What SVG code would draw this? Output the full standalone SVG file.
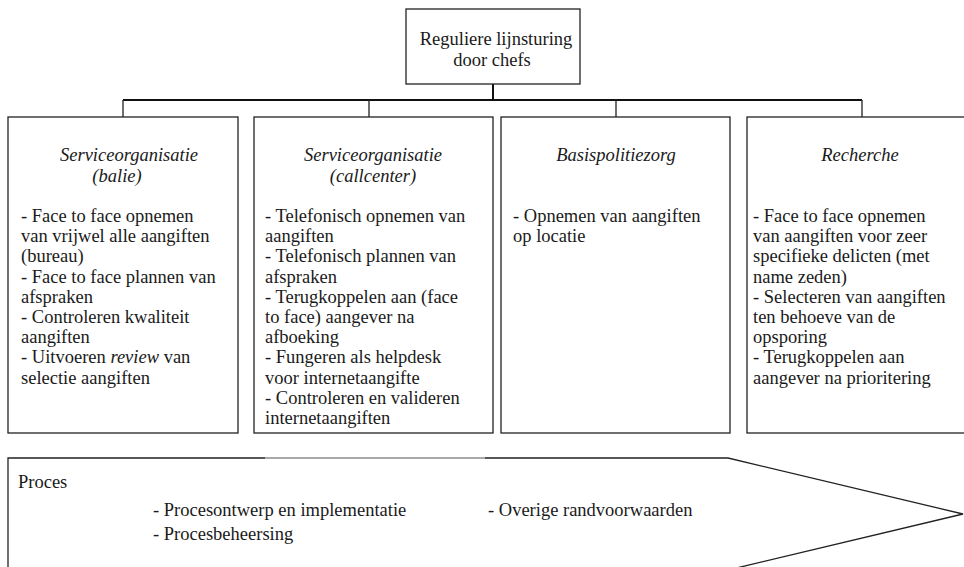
<svg xmlns="http://www.w3.org/2000/svg" width="964" height="567" viewBox="0 0 964 567">
  <style>
    .box { fill: #ffffff; stroke: #222222; stroke-width: 1.3; }
    .conn { fill: none; stroke: #222222; stroke-width: 1.3; }
    .trunk { fill: none; stroke: #111111; stroke-width: 2; }
    text { font-family: "Liberation Serif", "Times New Roman", serif; font-size: 18.5px; fill: #1a1a1a; }
    .hd { font-style: italic; text-anchor: middle; }
    .mid { text-anchor: middle; }
    .it { font-style: italic; }
  </style>
  <rect width="964" height="567" fill="#ffffff"/>

  <!-- connectors -->
  <g id="connectors">
    <path class="trunk" d="M493,84 V100 M123,100 H862"/>
    <path class="conn" d="M123,100 V117 M369,100 V117 M616,100 V117 M862,100 V117"/>
  </g>

  <!-- top node -->
  <g id="lijnsturing">
    <rect class="box" x="406" y="9" width="174" height="75"/>
    <text class="mid" x="496" y="45">Reguliere lijnsturing</text>
    <text class="mid" x="492" y="66">door chefs</text>
  </g>

  <g id="balie">
    <rect class="box" x="8" y="117" width="230" height="316"/>
    <text class="hd" x="129" y="161">Serviceorganisatie</text>
    <text class="hd" x="117" y="182">(balie)</text>
    <text x="21" y="222">
      <tspan x="21" y="222">- Face to face opnemen</tspan>
      <tspan x="21" y="242.2">van vrijwel alle aangiften</tspan>
      <tspan x="21" y="262.4">(bureau)</tspan>
      <tspan x="21" y="282.6">- Face to face plannen van</tspan>
      <tspan x="21" y="302.8">afspraken</tspan>
      <tspan x="21" y="323">- Controleren kwaliteit</tspan>
      <tspan x="21" y="343.2">aangiften</tspan>
      <tspan x="21" y="363.4">- Uitvoeren <tspan class="it">review</tspan> van</tspan>
      <tspan x="21" y="383.6">selectie aangiften</tspan>
    </text>
  </g>

  <g id="callcenter">
    <rect class="box" x="254" y="117" width="239" height="316"/>
    <text class="hd" x="373" y="161">Serviceorganisatie</text>
    <text class="hd" x="373" y="182">(callcenter)</text>
    <text x="265" y="222">
      <tspan x="265" y="222">- Telefonisch opnemen van</tspan>
      <tspan x="265" y="242.2">aangiften</tspan>
      <tspan x="265" y="262.4">- Telefonisch plannen van</tspan>
      <tspan x="265" y="282.6">afspraken</tspan>
      <tspan x="265" y="302.8">- Terugkoppelen aan (face</tspan>
      <tspan x="265" y="323">to face) aangever na</tspan>
      <tspan x="265" y="343.2">afboeking</tspan>
      <tspan x="265" y="363.4">- Fungeren als helpdesk</tspan>
      <tspan x="265" y="383.6">voor internetaangifte</tspan>
      <tspan x="265" y="403.8">- Controleren en valideren</tspan>
      <tspan x="265" y="424">internetaangiften</tspan>
    </text>
  </g>

  <g id="basispolitiezorg">
    <rect class="box" x="501" y="117" width="229" height="316"/>
    <text class="hd" x="616" y="161">Basispolitiezorg</text>
    <text x="513" y="222">
      <tspan x="513" y="222">- Opnemen van aangiften</tspan>
      <tspan x="513" y="242.2">op locatie</tspan>
    </text>
  </g>

  <g id="recherche">
    <rect class="box" x="747" y="117" width="222" height="316"/>
    <text class="hd" x="860" y="161">Recherche</text>
    <text x="753" y="222">
      <tspan x="753" y="222">- Face to face opnemen</tspan>
      <tspan x="753" y="242.2">van aangiften voor zeer</tspan>
      <tspan x="753" y="262.4">specifieke delicten (met</tspan>
      <tspan x="753" y="282.6">name zeden)</tspan>
      <tspan x="753" y="302.8">- Selecteren van aangiften</tspan>
      <tspan x="753" y="323">ten behoeve van de</tspan>
      <tspan x="753" y="343.2">opsporing</tspan>
      <tspan x="753" y="363.4">- Terugkoppelen aan</tspan>
      <tspan x="753" y="383.6">aangever na prioritering</tspan>
    </text>
  </g>

  <!-- process arrow along the bottom -->
  <g id="proces">
    <path class="box" d="M8,572 V458 H728 L963,514 L728,570 Z"/>
    <path d="M265,458 H485" stroke="#c4c4c4" stroke-width="1.4"/>
    <text x="18" y="488">Proces</text>
    <text x="153" y="516">- Procesontwerp en implementatie</text>
    <text x="153" y="540">- Procesbeheersing</text>
    <text x="488" y="516">- Overige randvoorwaarden</text>
  </g>
</svg>
